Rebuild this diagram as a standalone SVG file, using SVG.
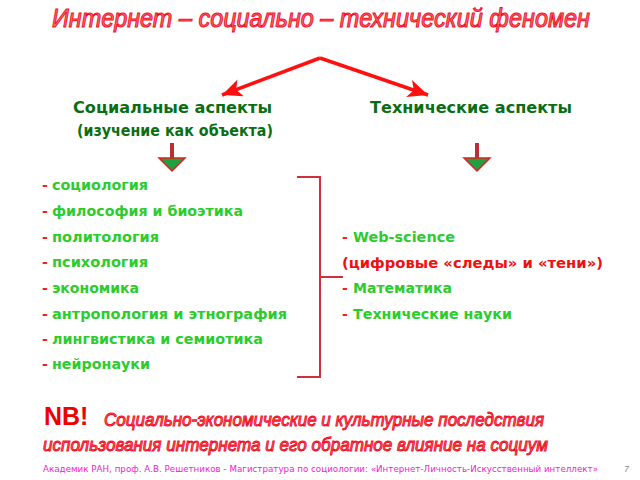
<svg xmlns="http://www.w3.org/2000/svg" width="640" height="480" viewBox="0 0 640 480">
<defs>
<style>
.ttl{font-family:"Liberation Sans",Arial,sans-serif;font-style:italic;font-weight:normal;fill:#ff6a78;stroke:#ee1024;stroke-width:1}
.hd{font-family:"DejaVu Sans",Verdana,sans-serif;font-weight:bold;font-size:15px;fill:#0b6e12}
.it{font-family:"DejaVu Sans",Verdana,sans-serif;font-weight:bold;font-size:14px;fill:#2ccc2c}
.ds{fill:#ff1a1a}
.rd{fill:#ee1111}
.ft{font-family:"DejaVu Sans",Verdana,sans-serif;font-size:9px;fill:#ee22cc}
.con{stroke:#ff1010;stroke-width:3.5;fill:none}
.br{stroke:#d0303c;stroke-width:2;fill:none}
.dshaft{stroke:#b83030;stroke-width:4}
.dhead{fill:#20a040;stroke:#e02020;stroke-width:1.5}
</style>
<marker id="ah" markerUnits="userSpaceOnUse" markerWidth="24" markerHeight="20" refX="20" refY="9" orient="auto">
<path d="M0,0 L20,9 L0,18 L5,9 Z" fill="#ff1010"/>
</marker>
</defs>
<rect width="640" height="480" fill="#ffffff"/>
<g id="title">
<text class="ttl" x="52" y="27" font-size="25" textLength="538" lengthAdjust="spacingAndGlyphs">Интернет – социально – технический феномен</text>
</g>
<g id="connectors">
<path class="con" d="M320,58 L222,95" marker-end="url(#ah)"/>
<path class="con" d="M320,58 L428,95" marker-end="url(#ah)"/>
<line class="dshaft" x1="172" y1="143" x2="172" y2="160"/>
<path class="dhead" d="M159,158 L185,158 L172,171 Z"/>
<line class="dshaft" x1="477" y1="143" x2="477" y2="160"/>
<path class="dhead" d="M464,158 L490,158 L477,171 Z"/>
<path class="br" d="M297,177 L320,177 L320,377 L297,377 M320,277 L343,277"/>
</g>
<g id="social">
<text class="hd" x="73" y="113" textLength="199" lengthAdjust="spacingAndGlyphs">Социальные аспекты</text>
<text class="hd" x="77" y="136" textLength="196" lengthAdjust="spacingAndGlyphs">(изучение как объекта)</text>
</g>
<g id="technical">
<text class="hd" x="370" y="113" textLength="202" lengthAdjust="spacingAndGlyphs">Технические аспекты</text>
</g>
<g id="social-list">
<text class="it" x="42" y="190"><tspan class="ds">- </tspan><tspan x="52" textLength="96" lengthAdjust="spacingAndGlyphs">социология</tspan></text>
<text class="it" x="42" y="216"><tspan class="ds">- </tspan><tspan x="52" textLength="191" lengthAdjust="spacingAndGlyphs">философия и биоэтика</tspan></text>
<text class="it" x="42" y="242"><tspan class="ds">- </tspan><tspan x="52" textLength="107" lengthAdjust="spacingAndGlyphs">политология</tspan></text>
<text class="it" x="42" y="267"><tspan class="ds">- </tspan><tspan x="52" textLength="96" lengthAdjust="spacingAndGlyphs">психология</tspan></text>
<text class="it" x="42" y="293"><tspan class="ds">- </tspan><tspan x="52" textLength="87" lengthAdjust="spacingAndGlyphs">экономика</tspan></text>
<text class="it" x="42" y="319"><tspan class="ds">- </tspan><tspan x="52" textLength="235" lengthAdjust="spacingAndGlyphs">антропология и этнография</tspan></text>
<text class="it" x="42" y="344"><tspan class="ds">- </tspan><tspan x="52" textLength="211" lengthAdjust="spacingAndGlyphs">лингвистика и семиотика</tspan></text>
<text class="it" x="42" y="369"><tspan class="ds">- </tspan><tspan x="52" textLength="98" lengthAdjust="spacingAndGlyphs">нейронауки</tspan></text>
</g>
<g id="tech-list">
<text class="it" x="342" y="242"><tspan class="ds">- </tspan><tspan x="353" textLength="102" lengthAdjust="spacingAndGlyphs">Web-science</tspan></text>
<text class="it rd" x="342" y="268" textLength="261" lengthAdjust="spacingAndGlyphs">(цифровые «следы» и «тени»)</text>
<text class="it" x="342" y="293"><tspan class="ds">- </tspan><tspan x="353" textLength="99" lengthAdjust="spacingAndGlyphs">Математика</tspan></text>
<text class="it" x="342" y="319"><tspan class="ds">- </tspan><tspan x="353" textLength="159" lengthAdjust="spacingAndGlyphs">Технические науки</tspan></text>
</g>
<g id="nb">
<text x="44" y="425" font-family="'Liberation Sans',Arial,sans-serif" font-weight="bold" font-size="25" fill="#ee0000">NB!</text>
<text class="ttl" x="104" y="426" font-size="19" textLength="440" lengthAdjust="spacingAndGlyphs">Социально-экономические и культурные последствия</text>
<text class="ttl" x="43" y="451" font-size="19" textLength="505" lengthAdjust="spacingAndGlyphs">использования интернета и его обратное влияние на социум</text>
</g>
<g id="footer">
<text class="ft" x="43" y="472" textLength="555" lengthAdjust="spacingAndGlyphs">Академик РАН, проф. А.В. Решетников - Магистратура по социологии: «Интернет-Личность-Искусственный интеллект»</text>
<text x="624" y="472" font-family="'Liberation Sans',Arial,sans-serif" font-style="italic" font-size="9" fill="#888888">7</text>
</g>
</svg>
